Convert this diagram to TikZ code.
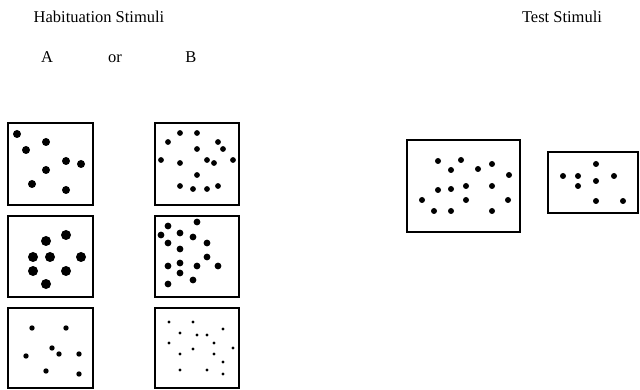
\documentclass[tikz,border=0pt]{standalone}
\usepackage{fontspec}
\setmainfont{Liberation Serif}
\begin{document}
\begin{tikzpicture}[x=1pt,y=-1pt,
  stimbox/.style={draw=black, line width=1.6pt, fill=white, inner sep=0pt},
  label/.style={font=\fontsize{16.5}{19}\selectfont, inner sep=0pt, anchor=base}]
\useasboundingbox (0,0) rectangle (640,390);

% headings, set on a common baseline per row
\node[label] (hab) at (99,23) {Habituation Stimuli};
\node[label] (test) at (562,23) {Test Stimuli};
\node[label] (la) at (47,63) {A};
\node[label] (lor) at (115,63) {or};
\node[label] (lb) at (191,63) {B};

% habituation set A
\node[stimbox, minimum width=85pt, minimum height=82pt] (a1) at (50.5,164) {};
\node[stimbox, minimum width=85pt, minimum height=81pt] (a2) at (50.5,256.5) {};
\node[stimbox, minimum width=85pt, minimum height=80pt] (a3) at (50.5,348) {};
% habituation set B
\node[stimbox, minimum width=84pt, minimum height=82pt] (b1) at (197,164) {};
\node[stimbox, minimum width=84pt, minimum height=81pt] (b2) at (197,256.5) {};
\node[stimbox, minimum width=84pt, minimum height=80pt] (b3) at (197,348) {};
% test displays
\node[stimbox, minimum width=113pt, minimum height=92pt] (t1) at (463.5,186) {};
\node[stimbox, minimum width=90pt, minimum height=61pt] (t2) at (593,182.5) {};

% dots
\foreach \p in {(17,134),(26,150),(46,142),(66,161),(81,164),(46,170),(32,184),(66,190)}
  \fill \p circle (4);
\foreach \p in {(46,241),(66,235),(33,257),(50,257),(81,257),(33,271),(66,271),(46,284)}
  \fill \p circle (5);
\foreach \p in {(32,328),(66,328),(52,348),(59,354),(26,356),(79,354),(46,371),(79,374)}
  \fill \p circle (2.7);

\foreach \p in {(180,133),(197,133),(168,142),(218,142),(197,149),(223,149),(161,160),(180,163),
                (207,160),(214,163),(233,160),(197,175),(180,186),(193,189),(207,189),(218,186)}
  \fill \p circle (2.9);
\foreach \p in {(197,222),(168,226),(161,235),(180,233),(193,237),(168,243),(207,243),(180,249),
                (207,257),(168,266),(180,263),(197,266),(218,266),(180,273),(168,284),(193,280)}
  \fill \p circle (3.4);
\foreach \p in {(169,322),(193,322),(223,329),(180,333),(197,335),(207,335),(169,343),(214,343),
                (233,348),(180,354),(193,349),(214,354),(223,362),(180,370),(207,370),(223,374)}
  \fill \p circle (1.7);

\foreach \p in {(438,161),(461,160),(451,170),(478,169),(492,164),(509,175),(438,190),(451,189),
                (466,186),(492,186),(422,200),(466,200),(508,200),(434,211),(451,211),(492,211)}
  \fill \p circle (3);
\foreach \p in {(563,176),(578,176),(578,186),(596,164),(596,181),(614,176),(596,201),(623,201)}
  \fill \p circle (3);
\end{tikzpicture}
\end{document}
